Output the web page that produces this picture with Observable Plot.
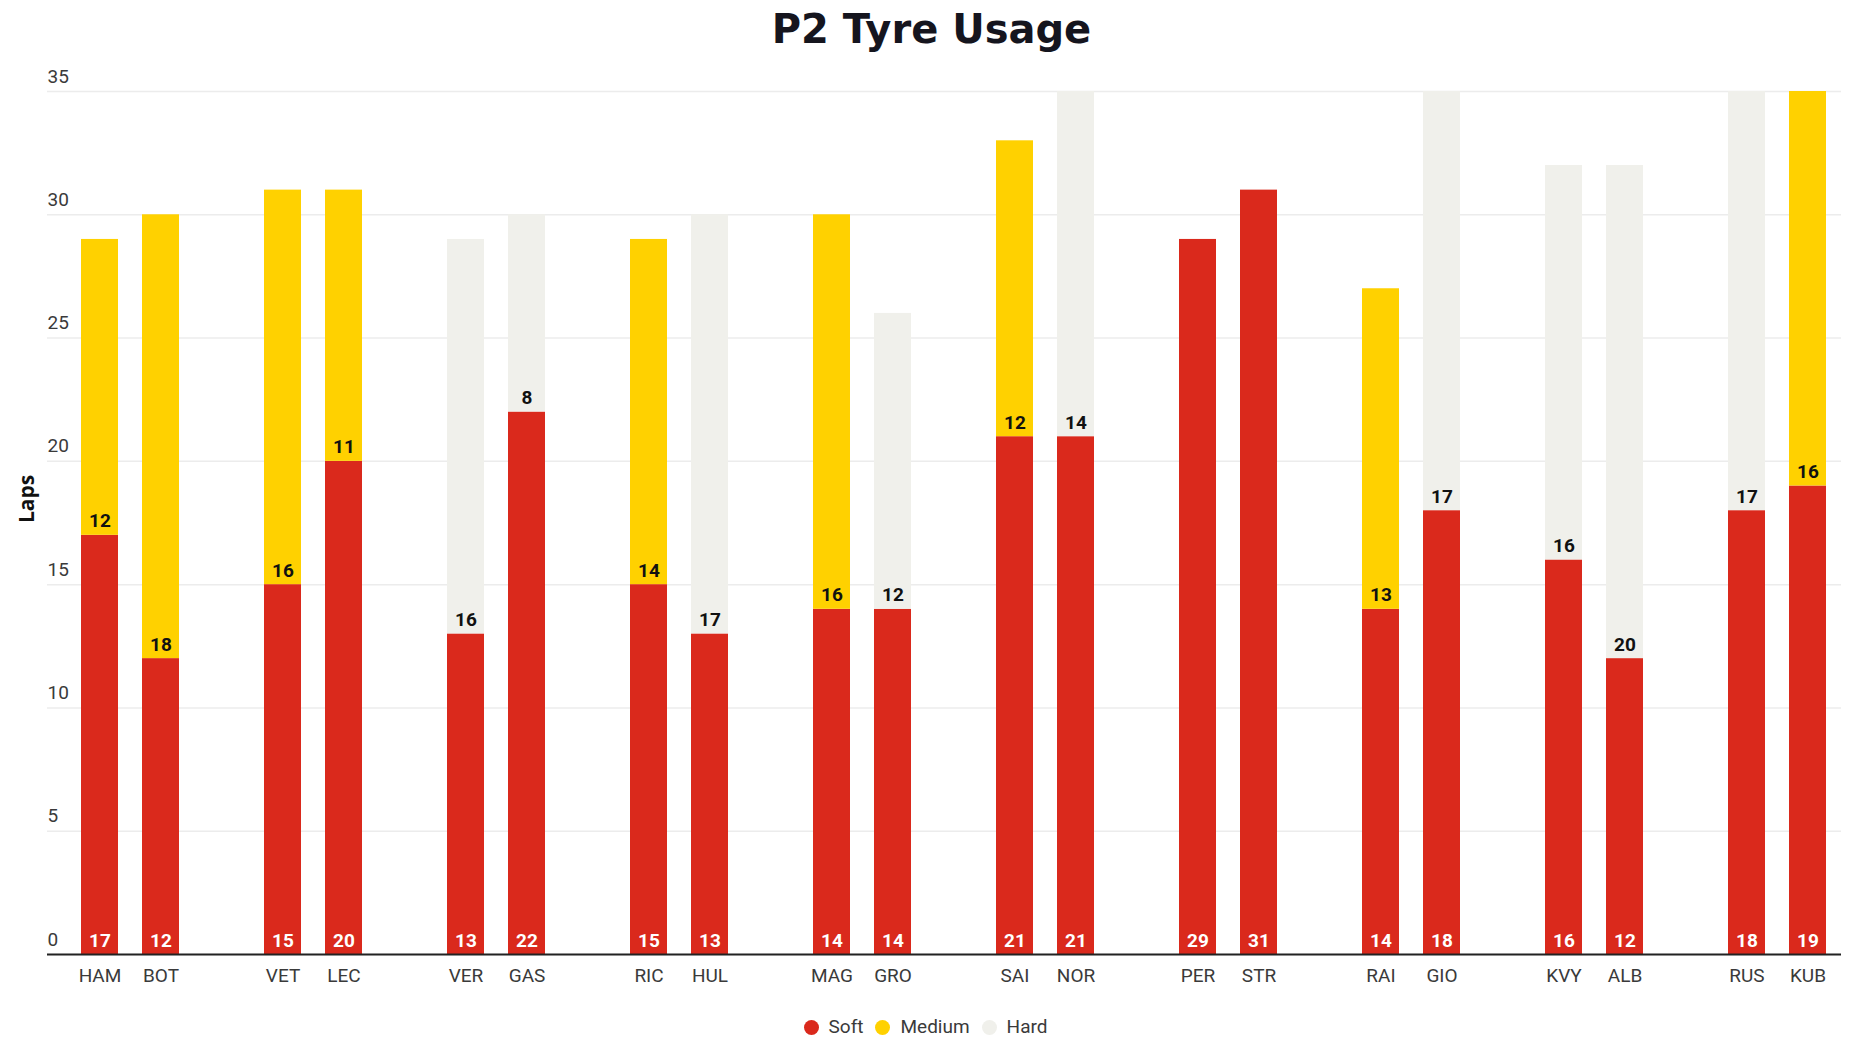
<!DOCTYPE html>
<html><head><meta charset="utf-8">
<script src="https://cdn.jsdelivr.net/npm/d3@7"></script>
<script src="https://cdn.jsdelivr.net/npm/@observablehq/plot@0.6"></script>
<style>
body{margin:0;background:#fff;font-family:Roboto, sans-serif;}
#title{height:56px;line-height:58px;text-align:center;font-family:"DejaVu Sans";font-weight:bold;font-size:40px;color:#15151e;}
#chart svg{display:block;}
#legend{height:56px;display:flex;justify-content:center;align-items:flex-start;padding-top:21px;box-sizing:border-box;font-size:19px;line-height:20px;color:#3a3a3a;font-family:Roboto, sans-serif;}
.item{display:flex;align-items:center;margin-right:12px;}
.sw{width:15px;height:15px;border-radius:50%;margin-right:10px;}
</style></head><body>
<div id="title">P2 Tyre Usage</div>
<div id="chart"></div>
<div id="legend"></div>
<script>
const drivers = ["HAM","BOT","VET","LEC","VER","GAS","RIC","HUL","MAG","GRO","SAI","NOR","PER","STR","RAI","GIO","KVY","ALB","RUS","KUB"];
const soft   = [17,12,15,20,13,22,15,13,14,14,21,21,29,31,14,18,16,12,18,19];
const medium = [12,18,16,11, 0, 0,14, 0,16, 0,12, 0, 0, 0,13, 0, 0, 0, 0,16];
const hard   = [ 0, 0, 0, 0,16, 8, 0,17, 0,12, 0,14, 0, 0, 0,17,16,20,17, 0];
const compounds = ["Soft","Medium","Hard"];
const colors = ["#DA291C","#FFD100","#F0F0EB"];
const yTicks = [0,5,10,15,20,25,30,35];

// x slots: a blank slot after each team pair
const slots = [];
drivers.forEach((d,i)=>{ slots.push(d); if(i%2===1 && i<drivers.length-1) slots.push("gap"+i); });

const rows = [];
drivers.forEach((d,i)=>{
  [soft[i],medium[i],hard[i]].forEach((v,j)=>{ if(v>0) rows.push({driver:d, compound:compounds[j], laps:v}); });
});
const softLabels = drivers.map((d,i)=>({driver:d, laps:soft[i]}));
const topLabels = drivers.map((d,i)=>({driver:d, base:soft[i], laps:medium[i]+hard[i]})).filter(r=>r.laps>0);

const chart = Plot.plot({
  width:1863, height:940,
  marginLeft:47, marginRight:22, marginTop:35, marginBottom:42,
  style:{fontFamily:"Roboto, sans-serif", background:"#fff", overflow:"visible"},
  x:{domain:slots, range:[57.2,1850.8], padding:0.386, label:null},
  y:{domain:[0,35], label:null},
  color:{domain:compounds, range:colors},
  marks:[
    Plot.gridY(yTicks,{stroke:"#ececec", strokeOpacity:1, strokeWidth:1.5}),
    Plot.axisY(yTicks,{tickSize:0, tickPadding:0, textAnchor:"start", dy:-15, fontSize:19, fill:"#3a3a3a", label:null}),
    Plot.text(["Laps"],{frameAnchor:"left", dx:-20, rotate:-90, fontWeight:"bold", fontSize:21, fontFamily:"Open Sans", fill:"#111"}),
    Plot.barY(rows,{x:"driver", y:"laps", fill:"compound"}),
    Plot.ruleY([0],{stroke:"#222", strokeWidth:2}),
    Plot.axisX(drivers,{tickSize:0, tickPadding:14, fontSize:19, fill:"#3a3a3a", label:null}),
    Plot.text(softLabels,{x:"driver", y:0, text:d=>String(d.laps), fill:"white", fontWeight:"bold", fontSize:19, lineAnchor:"bottom", dy:-8}),
    Plot.text(topLabels,{x:"driver", y:"base", text:d=>String(d.laps), fill:"#111", fontWeight:"bold", fontSize:19, lineAnchor:"bottom", dy:-8})
  ]
});
document.getElementById("chart").appendChild(chart);

const legend = document.getElementById("legend");
compounds.forEach((c,i)=>{
  const it = document.createElement("div"); it.className="item";
  const sw = document.createElement("span"); sw.className="sw"; sw.style.background=colors[i];
  const t = document.createElement("span"); t.textContent=c;
  it.appendChild(sw); it.appendChild(t); legend.appendChild(it);
});
</script>
</body></html>
